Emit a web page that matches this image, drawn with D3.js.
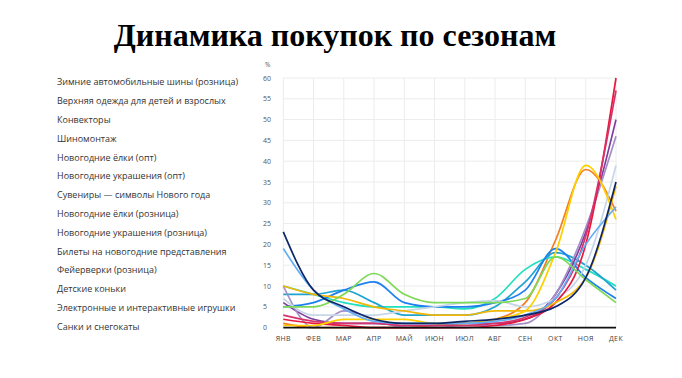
<!DOCTYPE html>
<meta charset="utf-8">
<script src="https://d3js.org/d3.v7.min.js"></script>
<style>
  body { margin: 0; background: #fff; }
  text { font-family: "Open Sans", sans-serif; }
</style>
<body>
<div id="canvas"></div>
<script>

  var months = ["ЯНВ","ФЕВ","МАР","АПР","МАЙ","ИЮН","ИЮЛ","АВГ","СЕН","ОКТ","НОЯ","ДЕК"];
  var yTicks = [0,5,10,15,20,25,30,35,40,45,50,55,60];

  var legendNames = [
    "Зимние автомобильные шины (розница)",
    "Верхняя одежда для детей и взрослых",
    "Конвекторы",
    "Шиномонтаж",
    "Новогодние ёлки (опт)",
    "Новогодние украшения (опт)",
    "Сувениры — символы Нового года",
    "Новогодние ёлки (розница)",
    "Новогодние украшения (розница)",
    "Билеты на новогодние представления",
    "Фейерверки (розница)",
    "Детские коньки",
    "Электронные и интерактивные игрушки",
    "Санки и снегокаты"
  ];

  // значения по месяцам, %
  var shiny      = [1, 0, 0, 0, 0, 0.5, 1, 2, 6, 21, 38, 28];
  var odezhda    = [10, 8, 6, 5, 5, 5, 4.5, 7, 14, 17, 14, 10];
  var konvektory = [8, 8, 9, 6, 3, 3, 3, 5, 11, 18, 15, 9];
  var shinomont  = [5, 6, 9, 11, 6, 5, 5, 6, 9, 19, 12, 7];
  var elkiOpt    = [6, 2, 1, 1, 0.5, 0.5, 1, 1, 2, 8, 23, 50];
  var ukrOpt     = [10, 0, 4, 2, 0, 0, 0.5, 0.5, 1, 8, 24, 46];
  var suveniry   = [7, 3, 3, 3, 4, 5, 6, 6.5, 5, 7, 15, 39];
  var elkiRozn   = [2, 1, 0.5, 0, 0, 0, 0, 0.5, 2, 6, 20, 60];
  var ukrRozn    = [3, 1.5, 1, 1, 0.5, 0.5, 0.5, 1, 2.5, 7, 22, 57];
  var bilety     = [10, 8, 7, 5, 4, 3, 3, 4, 4, 6, 12, 34];
  var feierverki = [0.5, 0.5, 2, 2, 2, 1, 1, 2, 4, 18, 39, 26];
  var konki      = [19, 9, 4.5, 1.5, 1, 1, 1, 1.5, 3, 7, 20, 29];
  var igrushki   = [5, 5, 8, 13, 8, 6, 6, 6, 7, 17, 11.5, 6];
  var sanki      = [23, 9, 5, 2, 1, 1, 1.5, 2, 3, 5, 12, 35];

  var series = [shiny, odezhda, konvektory, shinomont, elkiOpt, ukrOpt, suveniry,
                elkiRozn, ukrRozn, bilety, feierverki, konki, igrushki, sanki];
  var colors = ["#f57c1f","#22dfc0","#1fa3d0","#1e80ee","#7e3f9c","#a48fc8","#c6d6e8",
                "#e8173d","#d6336c","#f2b705","#ffd000","#64aef5","#7ed957","#0d2666"];

  var width = 682, height = 378;

  var svg = d3.select("#canvas")
    .append("svg")
    .attr("width", width)
    .attr("height", height);

  svg.append("rect").attr("width", width).attr("height", height).attr("fill", "#fff");

  // заголовок
  svg.append("text")
    .attr("x", 335)
    .attr("y", 46)
    .attr("text-anchor", "middle")
    .style("font-family", "'Liberation Serif', 'Times New Roman', serif")
    .style("font-weight", "bold")
    .style("font-size", "32px")
    .attr("fill", "#000")
    .text("Динамика покупок по сезонам");

  // легенда (без цветных маркеров)
  svg.append("g").selectAll("text")
    .data(legendNames)
    .enter()
    .append("text")
    .attr("x", 57)
    .attr("y", function(d, i) { return 85.3 + i * 18.8; })
    .style("font-size", "9px")
    .attr("fill", "#333")
    .text(function(d) { return d; });

  var x = d3.scalePoint().domain(months).range([283.3, 616]);
  var y = d3.scaleLinear().domain([0, 60]).range([327.6, 78]);

  var g = svg.append("g");

  // сетка
  g.selectAll(".hgrid")
    .data(yTicks.filter(function(d) { return d > 0; }))
    .enter().append("line")
    .attr("x1", x("ЯНВ")).attr("x2", x("ДЕК"))
    .attr("y1", function(d) { return y(d); })
    .attr("y2", function(d) { return y(d); })
    .attr("stroke", "#ececec");

  g.selectAll(".vgrid")
    .data(months)
    .enter().append("line")
    .attr("x1", function(d) { return x(d); })
    .attr("x2", function(d) { return x(d); })
    .attr("y1", y(60)).attr("y2", y(0))
    .attr("stroke", "#ececec");

  // подписи оси Y
  g.selectAll(".ylab")
    .data(yTicks)
    .enter().append("text")
    .attr("x", 263)
    .attr("y", function(d) { return y(d) + 2.5; })
    .style("font-size", "7px")
    .attr("fill", "#555")
    .text(function(d) { return d; });

  g.append("text")
    .attr("x", 265).attr("y", 67)
    .style("font-size", "6.5px")
    .attr("fill", "#555")
    .text("%");

  // подписи месяцев
  g.selectAll(".xlab")
    .data(months)
    .enter().append("text")
    .attr("x", function(d) { return x(d); })
    .attr("y", 341)
    .attr("text-anchor", "middle")
    .style("font-size", "7px")
    .style("letter-spacing", "0.4px")
    .attr("fill", "#444")
    .text(function(d) { return d; });

  // линии
  var line = d3.line()
    .x(function(d, i) { return x(months[i]); })
    .y(function(d) { return y(d); })
    .curve(d3.curveMonotoneX);

  g.selectAll(".series")
    .data(series)
    .enter().append("path")
    .attr("d", line)
    .attr("fill", "none")
    .attr("stroke", function(d, i) { return colors[i]; })
    .attr("stroke-width", 1.7);

  // ось X
  g.append("line")
    .attr("x1", x("ЯНВ")).attr("x2", x("ДЕК"))
    .attr("y1", y(0)).attr("y2", y(0))
    .attr("stroke", "#111")
    .attr("stroke-width", 1.6);

</script>
</body>
